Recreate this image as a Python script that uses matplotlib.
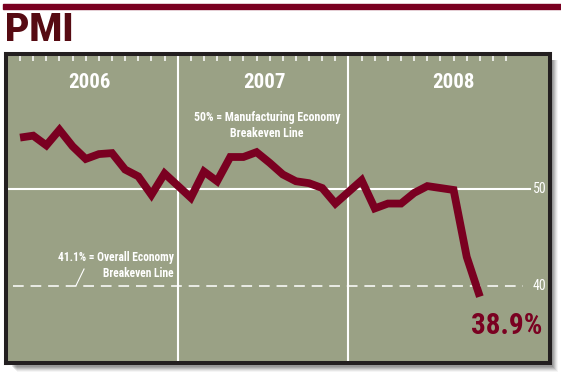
import matplotlib
matplotlib.use('Agg')
import matplotlib.pyplot as plt
from matplotlib.patches import Rectangle

# PMI readings by year (monthly)
years = ['2006', '2007', '2008']
pmi_2006 = [55.3, 55.5, 54.5, 56.1, 54.4, 53.1, 53.6, 53.7, 52.0, 51.3, 49.4, 51.6]
pmi_2007 = [49.1, 51.8, 50.8, 53.3, 53.3, 53.8, 52.7, 51.5, 50.8, 50.6, 50.1, 48.5]
pmi_2008 = [50.9, 48.0, 48.5, 48.5, 49.6, 50.3, 50.1, 49.9, 43.0, 38.9]
manufacturing_line = 50
overall_line = 40
last_label = '38.9%'

W, H = 561, 373
green = '#9aa185'
maroon = '#7a0021'
title_col = '#560a12'
border = '#231f20'
cond = ['Roboto Condensed', 'DejaVu Sans']

# each year takes 13 slots: 12 months + one slot for the divider line
x, y = [], []
for k, vals in enumerate([pmi_2006, pmi_2007, pmi_2008]):
    for m, v in enumerate(vals):
        x.append(13 * k + m)
        y.append(v)

fig = plt.figure(figsize=(W / 100, H / 100), dpi=100)
fig.patch.set_facecolor('white')

def fx(px):
    return px / W

def fy(py):
    return (H - py) / H

# maroon bar and title
fig.patches.append(Rectangle((fx(3), fy(9)), fx(561) - fx(3), fy(4) - fy(9),
                             transform=fig.transFigure, color=maroon, zorder=0))
fig.text(fx(5), fy(41), 'PMI', color=title_col, fontsize=27, fontweight=900,
         family=['Roboto', 'DejaVu Sans'], va='baseline', ha='left')

# soft drop shadow behind the box
for i, a in enumerate([0.10, 0.10, 0.10, 0.08, 0.06, 0.04]):
    d = 2 + i
    fig.patches.append(Rectangle((fx(10 + d), fy(365 + d)), fx(551 + d) - fx(10 + d),
                                 fy(60) - fy(365 + d), transform=fig.transFigure,
                                 color='black', alpha=a, lw=0, zorder=0))

ax = fig.add_axes([fx(6), fy(363), fx(549.5) - fx(6), fy(54) - fy(363)])
ax.set_facecolor(green)
ax.set_zorder(2)
for s in ax.spines.values():
    s.set_color(border)
    s.set_linewidth(2.9)

ax.set_xlim(-1.07, 40.3)
ax.set_ylim(32.06, 63.92)

# year dividers
for xv in [12, 25]:
    ax.axvline(xv, color='white', lw=1.5, zorder=1)

# breakeven lines
ax.plot([-1.07, 38.8], [manufacturing_line] * 2, color='white', lw=1.5, zorder=1)
ax.plot([-0.5, 38.3], [overall_line] * 2, color='white', lw=1.1, dashes=(7, 4.5), zorder=1)
ax.text(39.05, manufacturing_line, str(manufacturing_line), color='white', fontsize=10,
        family=cond, va='center', ha='left')
ax.text(39.05, overall_line, str(overall_line), color='white', fontsize=10,
        family=cond, va='center', ha='left')

# month ticks along the top
ticks = [13 * k + m for k in range(3) for m in range(12)]
ax.set_xticks(ticks)
ax.xaxis.tick_top()
ax.tick_params(axis='x', direction='in', length=5, width=1.1, color='white',
               labeltop=False, labelbottom=False, pad=0)
ax.set_yticks([])

# year labels
for xv, yr in zip([5.3, 18.6, 33.0], years):
    ax.text(xv, 61.0, yr, color='white', fontsize=15, fontweight='bold',
            family=cond, ha='center', va='center')

ax.plot(x, y, color=maroon, lw=5.6, solid_joinstyle='miter', solid_capstyle='butt', zorder=3)

ax.text(18.8, 56.5, '50% = Manufacturing Economy\nBreakeven Line', color='white',
        fontsize=8.6, fontweight='bold', family=cond, ha='center',
        va='center', multialignment='center', linespacing=1.3)
ax.text(11.72, 42.1, '41.1% = Overall Economy\nBreakeven Line', color='white',
        fontsize=8.3, fontweight='bold', family=cond, ha='right',
        va='center', multialignment='right', linespacing=1.3)
ax.plot([4.26, 4.87], [40.05, 41.75], color='white', lw=0.8)

ax.text(37.06, 35.9, last_label, color=maroon, fontsize=21, fontweight='bold',
        family=cond, ha='center', va='center')

fig.savefig('out.png', dpi=100, facecolor='white')
